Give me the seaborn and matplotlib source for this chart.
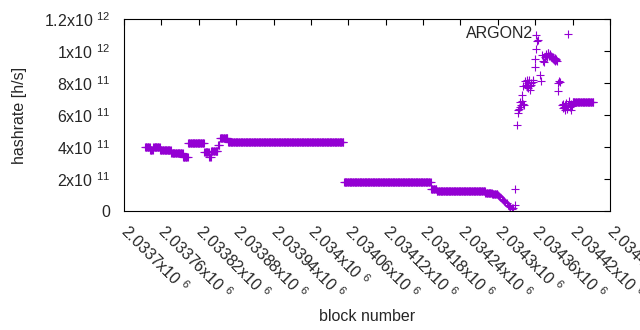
import numpy as np
import pandas as pd
import matplotlib
matplotlib.use("Agg")
import matplotlib.pyplot as plt
import seaborn as sns

# constant runs of hashrate (block range)
run_start = [2033734, 2033742, 2033747, 2033758, 2033776, 2033795, 2033803, 2033829, 2033837,
             2033840, 2033851, 2033854, 2033867, 2034053, 2034193, 2034202, 2034280, 2034291,
             2034420]
run_end = [2033741, 2033746, 2033757, 2033775, 2033794, 2033802, 2033828, 2033836, 2033839,
           2033850, 2033853, 2033866, 2034052, 2034192, 2034201, 2034279, 2034290, 2034299,
           2034453]
run_value = [4.0e11, 3.8e11, 4.0e11, 3.8e11, 3.65e11, 3.4e11, 4.25e11, 3.7e11, 3.35e11,
             3.75e11, 4.15e11, 4.55e11, 4.33e11, 1.79e11, 1.35e11, 1.27e11, 1.12e11, 1.05e11,
             6.8e11]

# single blocks (decline and scattered part)
point_block = [2034300, 2034302, 2034304, 2034306, 2034308, 2034310, 2034312, 2034314, 2034316,
               2034318, 2034320, 2034322, 2034323, 2034325, 2034327, 2034328,
               2034330, 2034332, 2034333, 2034334, 2034335, 2034336, 2034337, 2034338, 2034339,
               2034340, 2034341, 2034342, 2034344, 2034345, 2034346, 2034347, 2034348, 2034349,
               2034350, 2034351, 2034352, 2034353, 2034354, 2034356, 2034357, 2034359, 2034360,
               2034361, 2034362, 2034363, 2034364, 2034368, 2034369, 2034371, 2034372, 2034374,
               2034376, 2034377, 2034378, 2034379, 2034380, 2034381, 2034382, 2034383, 2034384,
               2034385, 2034386, 2034387, 2034388, 2034389, 2034390, 2034391, 2034392, 2034393,
               2034394, 2034395, 2034396, 2034397, 2034398, 2034400,
               2034403, 2034404, 2034405, 2034406, 2034407, 2034408, 2034409, 2034410, 2034411,
               2034413, 2034414, 2034415, 2034416, 2034417, 2034418, 2034419]
point_value = [1.0e11, 0.92e11, 0.85e11, 0.78e11, 0.7e11, 0.62e11, 0.55e11, 0.48e11, 0.4e11,
               0.32e11, 0.25e11, 0.18e11, 0.15e11, 0.2e11, 0.35e11, 1.35e11,
               5.4e11, 6.1e11, 6.3e11, 6.4e11, 6.8e11, 6.5e11, 6.6e11, 7.25e11, 6.9e11,
               6.7e11, 7.8e11, 6.6e11, 8.1e11, 7.9e11, 8.2e11, 7.75e11, 8.0e11, 7.7e11,
               8.2e11, 7.8e11, 7.55e11, 8.0e11, 7.9e11, 8.2e11, 8.05e11, 9.0e11, 9.5e11,
               1.01e12, 1.1e12, 1.06e12, 1.07e12, 8.5e11, 8.15e11, 9.75e11, 9.4e11, 9.3e11,
               9.6e11, 9.7e11, 9.8e11, 9.65e11, 9.9e11, 9.85e11, 9.7e11, 9.75e11, 9.8e11,
               9.6e11, 9.7e11, 9.55e11, 9.6e11, 9.5e11, 9.45e11, 9.55e11, 9.4e11, 9.5e11,
               9.45e11, 9.4e11, 7.5e11, 8.0e11, 8.1e11, 8.05e11,
               6.6e11, 6.45e11, 6.7e11, 6.5e11, 6.3e11, 6.6e11, 6.55e11, 6.75e11, 6.4e11,
               6.6e11, 6.85e11, 6.5e11, 6.65e11, 6.3e11, 6.7e11, 6.55e11]

x_ticks = [2033700, 2033760, 2033820, 2033880, 2033940, 2034000, 2034060, 2034120, 2034180,
           2034240, 2034300, 2034360, 2034420, 2034480]
x_tick_labels = ["2.0337", "2.03376", "2.03382", "2.03388", "2.03394", "2.034", "2.03406",
                 "2.03412", "2.03418", "2.03424", "2.0343", "2.03436", "2.03442", "2.03448"]
y_ticks = [0, 2e11, 4e11, 6e11, 8e11, 1e12, 1.2e12]
y_tick_labels = ["0", "2x10 $^{11}$", "4x10 $^{11}$", "6x10 $^{11}$", "8x10 $^{11}$",
                 "1x10 $^{12}$", "1.2x10 $^{12}$"]

blocks = [np.arange(s, e + 1) for s, e in zip(run_start, run_end)]
values = [np.full(len(b), v) for b, v in zip(blocks, run_value)]
df = pd.DataFrame({
    "block": np.concatenate(blocks + [np.array(point_block)]),
    "hashrate": np.concatenate(values + [np.array(point_value)]),
})

sns.set_style("white")
plt.rcParams["font.family"] = ["Liberation Sans", "DejaVu Sans"]
plt.rcParams["mathtext.fontset"] = "custom"
plt.rcParams["mathtext.rm"] = "Liberation Sans"
plt.rcParams["mathtext.default"] = "regular"
FS = 11.5

fig = plt.figure(figsize=(6.4, 3.3), dpi=100)
ax = fig.add_axes([124 / 640, 1 - 211 / 330, 486 / 640, 192 / 330])
sns.scatterplot(data=df, x="block", y="hashrate", marker="+", s=30, color="#9400d3",
                linewidth=0.8, ax=ax, label="ARGON2")

ax.set_xlim(2033700, 2034480)
ax.set_ylim(0, 1.2e12)
ax.set_xticks(x_ticks)
ax.set_xticklabels([l + "x10 $^{6}$" for l in x_tick_labels], rotation=-45, ha="left",
                   va="center", rotation_mode="anchor", fontsize=FS)
ax.set_yticks(y_ticks)
ax.set_yticklabels(y_tick_labels, fontsize=FS)
ax.tick_params(direction="in", length=4, width=0.8, top=True, right=True, color="black")
ax.tick_params(axis="y", pad=10)
ax.tick_params(axis="x", pad=12)
for sp in ax.spines.values():
    sp.set_color("black")
    sp.set_linewidth(0.8)

ax.set_xlabel("block number", fontsize=FS)
ax.set_ylabel("hashrate [h/s]", fontsize=FS)
ax.xaxis.set_label_coords(0.5, -0.51)
ax.yaxis.set_label_coords(-0.2, 0.5)

ax.legend(loc="upper right", bbox_to_anchor=(0.946, 0.965), frameon=False, markerfirst=False,
          handlelength=2, handletextpad=1.15, borderaxespad=0, borderpad=0, fontsize=FS)

plt.savefig("out.png", dpi=100)
